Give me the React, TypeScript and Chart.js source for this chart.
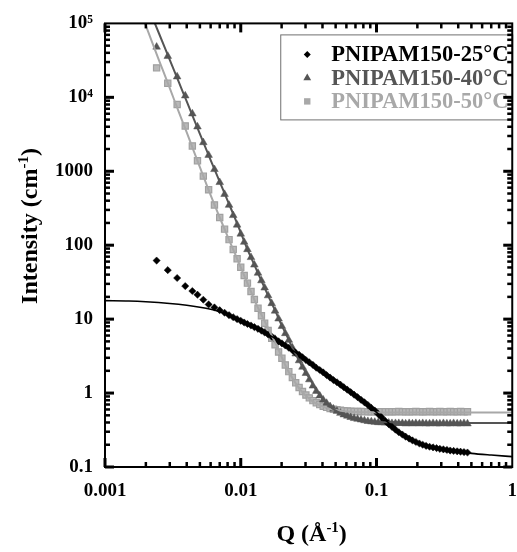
import React, { useEffect, useRef } from 'react';
import { Chart, registerables } from 'chart.js';

Chart.register(...registerables);

// ---------- data ----------
const seriesLabels = ['PNIPAM150-25°C', 'PNIPAM150-40°C', 'PNIPAM150-50°C'];
const seriesColors = ['#000000', '#555555', '#a8a8a8'];

const qData = [
  0.0024, 0.0029, 0.0034, 0.0039, 0.0044, 0.0048, 0.0053, 0.0058, 0.0064, 0.0070, 0.0076, 0.0082, 0.0088, 0.0094, 0.0100,
  0.0106, 0.0112, 0.0119, 0.0126, 0.0134, 0.0142, 0.0150, 0.0159, 0.0169, 0.0179,
  0.0190, 0.0201, 0.0213, 0.0226, 0.0240, 0.0254, 0.0269, 0.0285, 0.0302, 0.0320,
  0.0340, 0.0360, 0.0382, 0.0405, 0.0429, 0.0455, 0.0482, 0.0511, 0.0542, 0.0574,
  0.0609, 0.0645, 0.0684, 0.0725, 0.0769, 0.0815, 0.0864, 0.0916, 0.0971,
  0.103, 0.109, 0.116, 0.123, 0.130, 0.138, 0.146, 0.155, 0.164, 0.174,
  0.184, 0.195, 0.207, 0.219, 0.232, 0.246, 0.261, 0.277, 0.293, 0.311,
  0.330, 0.349, 0.370, 0.393, 0.416, 0.441, 0.468,
];

const int25 = [
  62, 46, 36, 28, 24, 21.4, 18.3, 15.8, 14.4, 13.2, 12.2, 11.3, 10.6, 10.0, 9.5,
  9.0, 8.6, 8.2, 7.8, 7.4, 7.0, 6.6, 6.2, 5.8, 5.4,
  5.0, 4.7, 4.4, 4.1, 3.8, 3.5, 3.3, 3.05, 2.8, 2.6,
  2.4, 2.2, 2.05, 1.9, 1.75, 1.62, 1.5, 1.4, 1.3, 1.2,
  1.11, 1.03, 0.95, 0.88, 0.81, 0.75, 0.69, 0.63, 0.58,
  0.52, 0.47, 0.42, 0.38, 0.35, 0.32, 0.295, 0.275, 0.257, 0.242,
  0.229, 0.218, 0.208, 0.2, 0.193, 0.188, 0.184, 0.18, 0.176, 0.173,
  0.17, 0.167, 0.165, 0.163, 0.161, 0.159, 0.157,
];

const int40 = [
  48000, 36000, 19000, 10500, 6000, 4000, 2450, 1650, 1060, 708, 489, 348, 253, 188, 142,
  110, 87.6, 68.4, 54.2, 42.0, 33.2, 26.5, 20.8, 16.3, 12.9,
  10.1, 8.0, 6.4, 5.2, 4.1, 3.4, 2.75, 2.25, 1.85, 1.52,
  1.25, 1.06, 0.92, 0.81, 0.73, 0.66, 0.61, 0.57, 0.535, 0.51,
  0.49, 0.47, 0.455, 0.445, 0.435, 0.425, 0.415, 0.41, 0.405,
  0.4, 0.4, 0.395, 0.395, 0.39, 0.39, 0.39, 0.39, 0.385, 0.39,
  0.385, 0.39, 0.385, 0.39, 0.385, 0.385, 0.39, 0.385, 0.385, 0.39,
  0.385, 0.385, 0.39, 0.385, 0.385, 0.39, 0.385,
];

const int50 = [
  25000, 15500, 8000, 4100, 2200, 1390, 860, 561, 350, 237, 165, 119, 87.6, 65.7, 50.2,
  39, 30.7, 23.6, 18.4, 14, 11.1, 8.8, 7.0, 5.5, 4.5,
  3.6, 2.95, 2.4, 1.95, 1.62, 1.38, 1.19, 1.05, 0.94, 0.86,
  0.79, 0.74, 0.70, 0.665, 0.64, 0.62, 0.605, 0.595, 0.585, 0.578,
  0.572, 0.567, 0.565, 0.563, 0.562, 0.561, 0.56, 0.56, 0.56,
  0.558, 0.56, 0.56, 0.558, 0.56, 0.56, 0.562, 0.56, 0.56, 0.558,
  0.56, 0.562, 0.56, 0.558, 0.56, 0.562, 0.56, 0.56, 0.562, 0.56,
  0.56, 0.562, 0.56, 0.558, 0.562, 0.56, 0.56,
];

const qFit25 = [0.001, 0.0015, 0.002, 0.003, 0.004, 0.005, 0.006, 0.007, 0.008, 0.009, 0.01, 0.012, 0.014, 0.017, 0.02, 0.025, 0.03, 0.035, 0.04, 0.05, 0.06, 0.07, 0.08, 0.09, 0.1, 0.12, 0.14, 0.17, 0.2, 0.25, 0.3, 0.4, 0.5, 0.7, 1.0];
const fit25 = [17.8, 17.6, 17.2, 16.3, 15.4, 14.5, 13.6, 12.6, 11.7, 10.6, 9.8, 8.3, 7.1, 5.8, 4.8, 3.6, 2.85, 2.3, 1.92, 1.43, 1.13, 0.92, 0.76, 0.64, 0.55, 0.41, 0.325, 0.255, 0.215, 0.188, 0.174, 0.161, 0.153, 0.145, 0.138];

const qFit40 = [0.0022, 0.0025, 0.003, 0.0035, 0.004, 0.005, 0.006, 0.007, 0.008, 0.009, 0.01, 0.011, 0.012, 0.013, 0.014, 0.015, 0.016, 0.018, 0.02, 0.022, 0.024, 0.026, 0.028, 0.03, 0.033, 0.036, 0.04, 0.045, 0.05, 0.06, 0.07, 0.08, 0.1, 0.15, 0.2, 0.3, 0.5, 1.0];
const fit40 = [129000, 73000, 32000, 16000, 8800, 3200, 1420, 720, 400, 240, 148, 95, 66, 47.6, 35, 26.5, 20.3, 12.8, 8.3, 5.8, 4.1, 3.1, 2.4, 1.92, 1.45, 1.1, 0.84, 0.67, 0.58, 0.49, 0.455, 0.43, 0.41, 0.4, 0.397, 0.395, 0.395, 0.395];

const qFit50 = [0.0019, 0.002, 0.0025, 0.003, 0.0035, 0.004, 0.0045, 0.005, 0.006, 0.007, 0.008, 0.009, 0.01, 0.011, 0.012, 0.013, 0.014, 0.015, 0.016, 0.017, 0.018, 0.019, 0.02, 0.022, 0.024, 0.026, 0.028, 0.03, 0.033, 0.036, 0.04, 0.045, 0.05, 0.06, 0.07, 0.08, 0.1, 0.2, 0.5, 1.0];
const fit50 = [119000, 93000, 31700, 13300, 6300, 3350, 1890, 1140, 475, 237, 132, 79.4, 50.2, 33.2, 22.7, 16.0, 12.1, 9.4, 7.4, 5.9, 4.75, 3.85, 3.1, 2.1, 1.6, 1.27, 1.06, 0.93, 0.8, 0.72, 0.66, 0.615, 0.59, 0.565, 0.555, 0.55, 0.548, 0.545, 0.545, 0.545];

const xTickValues = [0.001, 0.01, 0.1, 1];
const xTickLabels = ['0.001', '0.01', '0.1', '1'];
const yTickValues = [0.1, 1, 10, 100, 1000, 10000, 100000];
const yTickLabels = ['0.1', '1', '10', '100', '1000', '10⁴', '10⁵'];

const FONT = '"Liberation Serif", "Times New Roman", Times, serif';
const TICK_COLOR = '#000000';

const pts = (qs: number[], is: number[]) => qs.map((q, i) => ({ x: q, y: is[i] }));

function drawRich(ctx: CanvasRenderingContext2D, parts: [string, boolean][], x: number, y: number, size: number) {
  const supSize = Math.round(size * 0.62);
  const widths = parts.map(([t, sup]) => {
    ctx.font = `bold ${sup ? supSize : size}px ${FONT}`;
    return ctx.measureText(t).width;
  });
  const total = widths.reduce((a, b) => a + b, 0);
  let cx = x - total / 2;
  ctx.textAlign = 'left';
  ctx.textBaseline = 'alphabetic';
  parts.forEach(([t, sup], i) => {
    ctx.font = `bold ${sup ? supSize : size}px ${FONT}`;
    ctx.fillText(t, cx, sup ? y - size * 0.36 : y);
    cx += widths[i];
  });
}

function drawMarker(ctx: CanvasRenderingContext2D, style: string, x: number, y: number, color: string) {
  ctx.fillStyle = color;
  ctx.beginPath();
  if (style === 'rectRot') {
    const r = 3.5;
    ctx.moveTo(x, y - r); ctx.lineTo(x + r, y); ctx.lineTo(x, y + r); ctx.lineTo(x - r, y);
  } else if (style === 'triangle') {
    const r = 4.5;
    ctx.moveTo(x, y - r); ctx.lineTo(x + r * 0.87, y + r * 0.5); ctx.lineTo(x - r * 0.87, y + r * 0.5);
  } else {
    const r = 3.2;
    ctx.rect(x - r, y - r, 2 * r, 2 * r);
  }
  ctx.closePath();
  ctx.fill();
}

const decorPlugin = {
  id: 'decor',
  afterDraw(chart: any) {
    const ctx: CanvasRenderingContext2D = chart.ctx;
    const a = chart.chartArea;
    const xs = chart.scales.x;
    const ys = chart.scales.y;
    ctx.save();

    // legend box
    const lx = a.right - 232;
    const ly = a.top + 11;
    ctx.fillStyle = '#ffffff';
    ctx.fillRect(lx, ly, 232, 85);
    ctx.strokeStyle = '#707070';
    ctx.lineWidth = 1;
    ctx.strokeRect(lx + 0.5, ly + 0.5, 232, 85);
    const styles = ['rectRot', 'triangle', 'rect'];
    seriesLabels.forEach((lab, i) => {
      const ry = ly + 20 + i * 23.5;
      drawMarker(ctx, styles[i], lx + 27, ry, seriesColors[i]);
      ctx.fillStyle = seriesColors[i];
      ctx.font = `bold 22.5px ${FONT}`;
      ctx.textAlign = 'left';
      ctx.textBaseline = 'middle';
      ctx.fillText(lab, lx + 51, ry + 1);
    });

    // frame
    ctx.strokeStyle = '#000000';
    ctx.lineWidth = 2;
    ctx.strokeRect(a.left, a.top, a.right - a.left, a.bottom - a.top);

    // inward ticks (major at decades, minor at 2..9)
    ctx.fillStyle = TICK_COLOR;
    for (let e = -3; e < 0; e++) {
      for (let m = 1; m <= 9; m++) {
        const v = m * Math.pow(10, e);
        const px = xs.getPixelForValue(v);
        const len = m === 1 ? 9 : 5;
        const w = m === 1 ? 3 : 2.5;
        ctx.fillRect(px - w / 2, a.bottom - len, w, len);
        ctx.fillRect(px - w / 2, a.top, w, len);
      }
    }
    for (let e = -1; e < 5; e++) {
      for (let m = 1; m <= 9; m++) {
        const v = m * Math.pow(10, e);
        const py = ys.getPixelForValue(v);
        const len = m === 1 ? 9 : 5;
        const w = m === 1 ? 3 : 2.5;
        ctx.fillRect(a.left, py - w / 2, len, w);
        ctx.fillRect(a.right - len, py - w / 2, len, w);
      }
    }

    // axis titles
    ctx.fillStyle = '#000000';
    drawRich(ctx, [['Q (Å', false], ['-1', true], [')', false]], (a.left + a.right) / 2 + 3, 541, 24);
    ctx.save();
    ctx.translate(37, 226);
    ctx.rotate(-Math.PI / 2);
    drawRich(ctx, [['Intensity (cm', false], ['-1', true], [')', false]], 0, 0, 24);
    ctx.restore();

    ctx.restore();
  },
};

export default function App() {
  const ref = useRef<HTMLCanvasElement>(null);
  useEffect(() => {
    const tickFont = { family: FONT, size: 19, weight: 'bold' as const };
    const chart = new Chart(ref.current as HTMLCanvasElement, {
      type: 'scatter',
      data: {
        datasets: [
          { label: 'fit25', data: pts(qFit25, fit25), showLine: true, pointRadius: 0, borderColor: seriesColors[0], borderWidth: 1.6, cubicInterpolationMode: 'monotone', order: 0 } as any,
          { label: 'fit40', data: pts(qFit40, fit40), showLine: true, pointRadius: 0, borderColor: seriesColors[1], borderWidth: 2, cubicInterpolationMode: 'monotone', order: 0 } as any,
          { label: 'fit50', data: pts(qFit50, fit50), showLine: true, pointRadius: 0, borderColor: seriesColors[2], borderWidth: 2, cubicInterpolationMode: 'monotone', order: 0 } as any,
          { label: seriesLabels[0], data: pts(qData, int25), pointStyle: 'rectRot', pointRadius: 3.6, backgroundColor: seriesColors[0], borderColor: seriesColors[0], borderWidth: 0.5, order: 1 },
          { label: seriesLabels[1], data: pts(qData, int40), pointStyle: 'triangle', pointRadius: 4.4, backgroundColor: seriesColors[1], borderColor: seriesColors[1], borderWidth: 0.5, order: 2 },
          { label: seriesLabels[2], data: pts(qData, int50), pointStyle: 'rect', pointRadius: 4.4, backgroundColor: '#b8b8b8', borderColor: '#a0a0a0', borderWidth: 1.2, order: 3 },
        ],
      },
      options: {
        animation: false,
        responsive: false,
        devicePixelRatio: 1,
        layout: { padding: { left: 0, top: 16, right: 17, bottom: 0 } },
        plugins: { legend: { display: false }, tooltip: { enabled: false } },
        scales: {
          x: {
            type: 'logarithmic',
            min: 0.001,
            max: 1,
            grid: { display: false, drawTicks: false },
            border: { display: false },
            afterBuildTicks: (s: any) => { s.ticks = xTickValues.map((v) => ({ value: v })); },
            afterFit: (s: any) => { s.height = 85; },
            ticks: {
              autoSkip: false, maxRotation: 0, padding: 13, color: '#000', font: tickFont,
              callback: (_v: any, i: number) => xTickLabels[i],
            },
          },
          y: {
            type: 'logarithmic',
            min: 0.1,
            max: 100000,
            grid: { display: false, drawTicks: false },
            border: { display: false },
            afterBuildTicks: (s: any) => { s.ticks = yTickValues.map((v) => ({ value: v })); },
            afterFit: (s: any) => { s.width = 105; },
            ticks: {
              autoSkip: false, padding: 12, color: '#000', font: tickFont,
              callback: (_v: any, i: number) => yTickLabels[i],
            },
          },
        },
      },
      plugins: [decorPlugin],
    } as any);
    return () => chart.destroy();
  }, []);
  return (
    <div style={{ position: 'fixed', left: 0, top: 0, width: 517, height: 552, overflow: 'hidden', background: '#fff' }}>
      <canvas ref={ref} width={530} height={552} style={{ display: 'block', width: 530, height: 552 }} />
    </div>
  );
}
